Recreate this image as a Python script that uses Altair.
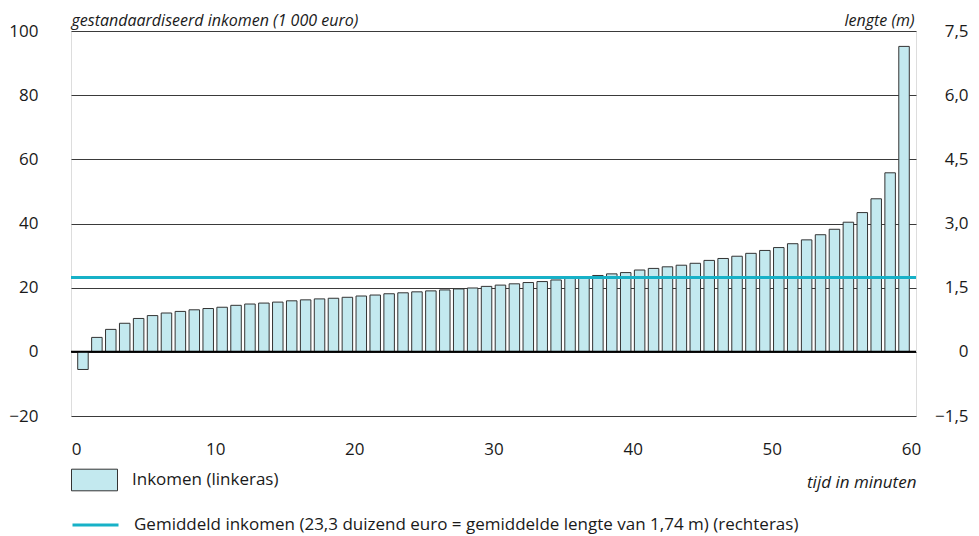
import altair as alt
import pandas as pd

# Data
minutes = list(range(60))
income = [-5.5, 4.5, 7.0, 8.9, 10.4, 11.3, 12.1, 12.6, 13.1, 13.5,
          13.9, 14.5, 14.9, 15.2, 15.5, 15.9, 16.2, 16.5, 16.7, 17.0,
          17.4, 17.7, 18.1, 18.4, 18.7, 19.0, 19.3, 19.6, 19.9, 20.4,
          20.8, 21.2, 21.6, 21.9, 22.4, 22.9, 23.3, 23.8, 24.3, 24.7,
          25.5, 26.0, 26.5, 27.0, 27.6, 28.5, 29.1, 29.8, 30.7, 31.6,
          32.5, 33.7, 34.9, 36.5, 38.2, 40.4, 43.4, 47.7, 55.8, 95.2]
mean_length = [1.74]
zero_line = [0]

bar_label = "Inkomen (linkeras)"
line_label = "Gemiddeld inkomen (23,3 duizend euro = gemiddelde lengte van 1,74 m) (rechteras)"

bars_df = pd.DataFrame({"mid": [m + 0.5 for m in minutes], "inkomen": income,
                        "serie": [bar_label] * len(minutes)})
mean_df = pd.DataFrame({"lengte": mean_length, "serie": [line_label]})
zero_df = pd.DataFrame({"inkomen": zero_line})

FONT = "Open Sans"
FS = 17
TFS = 16
TXT = "#1a1a1a"

x_enc = alt.X("mid:Q", scale=alt.Scale(domain=[0, 60], nice=False, zero=False),
              axis=alt.Axis(values=[0, 10, 20, 30, 40, 50, 60], grid=False, ticks=False,
                            domain=False, labelPadding=25, labelFontSize=FS,
                            labelColor=TXT, labelFont=FONT,
                            title="tijd in minuten", titleFont=FONT, titleFontSize=FS,
                            titleFontStyle="italic", titleFontWeight="normal",
                            titleColor=TXT, titleAnchor="end", titleAlign="right",
                            titleX=845, titleY=71, titleBaseline="alphabetic"))

left_axis = alt.Axis(values=[-20, 0, 20, 40, 60, 80, 100], grid=True, gridColor="#3a3a3a",
                     gridWidth=1, ticks=False, domain=False, labelPadding=33,
                     labelFontSize=FS, labelColor=TXT, labelFont=FONT,
                     labelExpr="replace(format(datum.value, 'd'), '-', '−')",
                     title="gestandaardiseerd inkomen (1 000 euro)", titleAngle=0,
                     titleFont=FONT, titleFontSize=TFS, titleFontStyle="italic",
                     titleFontWeight="normal", titleColor=TXT, titleAlign="left",
                     titleX=0, titleY=-6, titleBaseline="alphabetic")

y_left = alt.Scale(domain=[-20, 100], nice=False)

bars = alt.Chart(bars_df).mark_bar(width=10.5, fill="#c3e9ef", stroke="#333333",
                                   strokeWidth=1).encode(
    x=x_enc,
    y=alt.Y("inkomen:Q", scale=y_left, axis=left_axis),
    fill=alt.Fill("serie:N", scale=alt.Scale(range=["#c3e9ef"]),
                  legend=alt.Legend(orient="none", legendX=0, legendY=425.5, title=None,
                                    symbolType="M-1,-0.47H1V0.47H-1Z", symbolSize=2116,
                                    symbolStrokeColor="#333333", symbolStrokeWidth=1,
                                    symbolFillColor="#c3e9ef", labelFontSize=FS,
                                    labelFont=FONT, labelColor=TXT, labelOffset=14,
                                    labelLimit=900)),
)

zero = alt.Chart(zero_df).mark_rule(color="#000000", strokeWidth=2).encode(
    y=alt.Y("inkomen:Q", scale=y_left, axis=left_axis)
)

right_axis = alt.Axis(orient="right", values=[-1.5, 0, 1.5, 3.0, 4.5, 6.0, 7.5], grid=False,
                      ticks=False, domain=False, labelPadding=52, labelAlign="right",
                      labelFontSize=FS, labelColor=TXT, labelFont=FONT,
                      labelExpr="datum.value == 0 ? '0' : replace(replace(format(datum.value, '.1f'), '.', ','), '-', '−')",
                      title="lengte (m)", titleAngle=0, titleFont=FONT, titleFontSize=TFS,
                      titleFontStyle="italic", titleFontWeight="normal", titleColor=TXT,
                      titleAlign="right", titleX=-2, titleY=-6, titleBaseline="alphabetic")

mean_line = alt.Chart(mean_df).mark_rule(strokeWidth=3).encode(
    y=alt.Y("lengte:Q", scale=alt.Scale(domain=[-1.5, 7.5], nice=False), axis=right_axis),
    stroke=alt.Stroke("serie:N", scale=alt.Scale(range=["#17b1c7"]),
                      legend=alt.Legend(orient="none", legendX=0, legendY=469.5, title=None,
                                        symbolType="stroke", symbolSize=2116,
                                        symbolStrokeWidth=3, labelFontSize=FS,
                                        labelFont=FONT, labelColor=TXT, labelOffset=14,
                                        labelLimit=900)),
)

left = alt.layer(bars, zero)
chart = alt.layer(left, mean_line).resolve_scale(
    y="independent", fill="independent", stroke="independent"
).properties(
    width=845, height=385,
    autosize=alt.AutoSizeParams(type="none"),
    padding={"left": 63, "top": 23, "right": 55, "bottom": 120},
).configure_view(stroke="#777777", strokeWidth=1).configure(background="white")

chart.save("out.html", embed_options={"renderer": "svg", "actions": False})
